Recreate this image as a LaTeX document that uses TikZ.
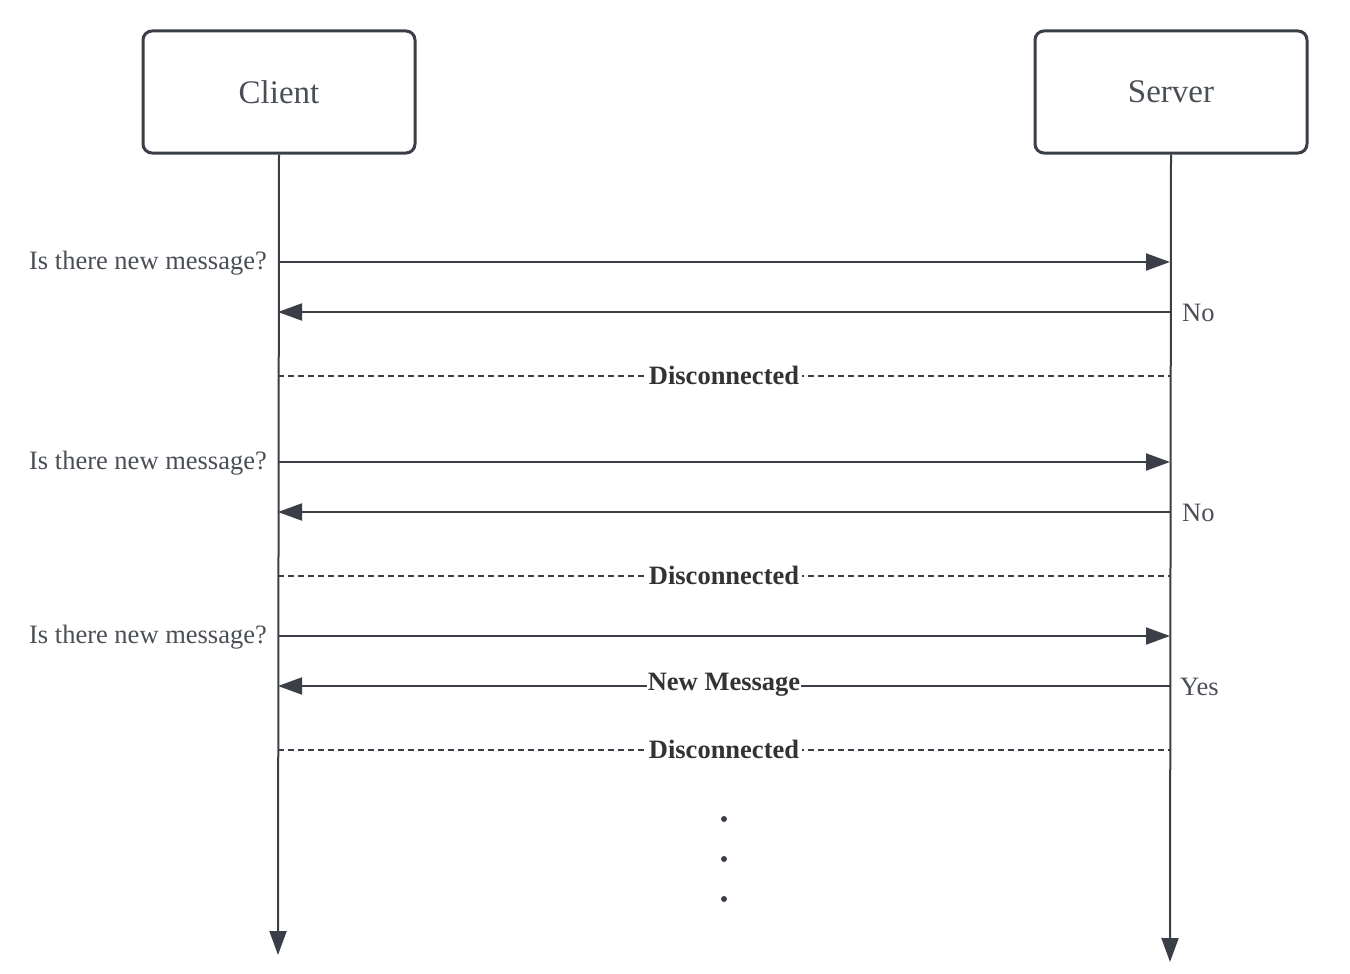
\documentclass[tikz,border=0pt]{standalone}
\usepackage{fontspec}
\setmainfont{Liberation Serif}
\usetikzlibrary{arrows.meta}
\definecolor{ink}{HTML}{3A3F47}
\definecolor{txt}{HTML}{4A4F55}
\definecolor{boldtxt}{HTML}{333333}
\tikzset{
  actor/.style={draw=ink, line width=3pt, rounded corners=9pt, minimum width=272pt,
    minimum height=122pt, text=txt, font=\fontsize{33}{38}\selectfont, anchor=north west},
  lifeline/.style={draw=ink, line width=2pt, -{Triangle[length=24pt,width=17pt]}},
  msg/.style={draw=ink, line width=2pt, -{Triangle[length=24pt,width=17pt]}},
  gap/.style={draw=ink, line width=1.5pt, dash pattern=on 6pt off 4pt},
  lbl/.style={text=txt, font=\fontsize{26.5}{30}\selectfont, inner sep=0pt},
  tag/.style={text=boldtxt, font=\bfseries\fontsize{26.5}{30}\selectfont, fill=white, inner sep=3pt},
  dot/.style={circle, fill=ink, minimum size=6pt, inner sep=0pt}
}
\begin{document}
\begin{tikzpicture}[x=1pt,y=-1pt]
\useasboundingbox (0,0) rectangle (1350,974);
% participants
\node[actor] (client) at (141.5,29.5) {Client};
\node[actor] (server) at (1033.5,29.5) {Server};
% lifeline ends
\coordinate (cend) at (278,955);
\coordinate (send) at (1170,962);
\draw[lifeline] (client.south) -- (cend);
\draw[lifeline] (server.south) -- (send);
% message anchor points on the lifelines
\foreach \n/\y in {a/262,b/312,c/376,d/462,e/512,f/576,g/636,h/686,i/750}{
  \coordinate (c\n) at (278,\y);
  \coordinate (s\n) at (1170,\y);
}
% first poll
\draw[msg] (ca) -- (sa);
\node[lbl, anchor=east] (qa) at (267,263) {Is there new message?};
\draw[msg] (sb) -- (cb);
\node[lbl, anchor=west] (ra) at (1182,313) {No};
\draw[gap] (cc) -- (sc);
\node[tag] (da) at (724,375) {Disconnected};
% second poll
\draw[msg] (cd) -- (sd);
\node[lbl, anchor=east] (qb) at (267,463) {Is there new message?};
\draw[msg] (se) -- (ce);
\node[lbl, anchor=west] (rb) at (1182,513) {No};
\draw[gap] (cf) -- (sf);
\node[tag] (db) at (724,575) {Disconnected};
% third poll
\draw[msg] (cg) -- (sg);
\node[lbl, anchor=east] (qc) at (267,637) {Is there new message?};
\draw[msg] (sh) -- (ch);
\node[tag, inner sep=0.5pt] (nm) at (724,685) {New Message};
\node[lbl, anchor=west] (rc) at (1180,687) {Yes};
\draw[gap] (ci) -- (si);
\node[tag] (dc) at (724,749) {Disconnected};
% continuation
\node[dot] (p1) at (724,819) {};
\node[dot] (p2) at (724,859) {};
\node[dot] (p3) at (724,899) {};
\end{tikzpicture}
\end{document}
